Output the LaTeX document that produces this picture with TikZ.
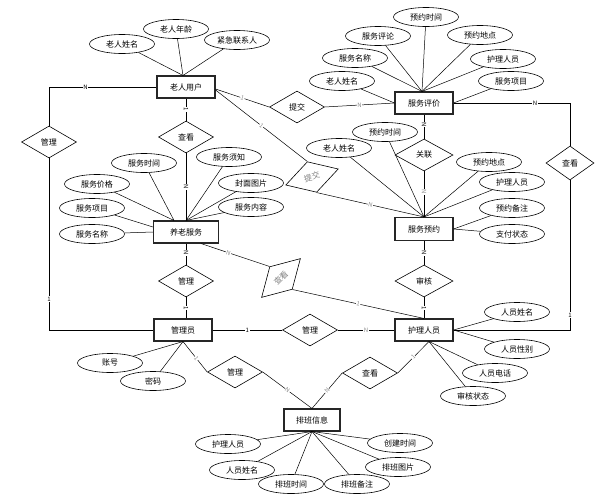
\documentclass[tikz,border=0pt]{standalone}
\usepackage{fontspec}
\setmainfont{Noto Sans CJK SC}
\usetikzlibrary{shapes.geometric}

\begin{document}
\begin{tikzpicture}[x=1pt,y=-1pt,font=\fontsize{8}{9}\selectfont]
          \tikzstyle{entity}=[draw=black!85,line width=1.1pt,minimum width=58pt,minimum height=22pt,inner sep=0pt]
          \tikzstyle{attr}=[draw,ellipse,line width=.6pt,minimum width=65pt,minimum height=19pt,inner sep=0pt]
          \tikzstyle{rel}=[draw,diamond,line width=.6pt,minimum width=55pt,minimum height=32pt,inner sep=0pt]
          \tikzstyle{edge}=[draw,line width=.5pt]
          \tikzstyle{card}=[fill=white,inner sep=.5pt,font=\fontsize{6}{6}\selectfont]
          \tikzstyle{gcard}=[card,text=black!45]
          \useasboundingbox (0,0) rectangle (614,499);
          \node[entity] (old) at (186,87) {老人用户};
          \node[entity] (eval) at (424,103) {服务评价};
          \node[entity,minimum width=65pt] (serv) at (186,232) {养老服务};
          \node[entity,minimum height=23pt] (appt) at (424,229) {服务预约};
          \node[entity] (admin) at (183,330) {管理员};
          \node[entity] (nurse) at (424,330) {护理人员};
          \node[entity,minimum width=56pt] (shift) at (312,420) {排班信息};
          \node[rel] (m1) at (49,142) {管理};
          \node[rel] (ck1) at (186,137) {查看};
          \node[rel] (tj1) at (297,107) {提交};
          \node[rel,rotate=17,text=black!50] (tj2) at (312,177) {提交};
          \node[rel,minimum width=58pt] (gl) at (424,155) {关联};
          \node[rel,minimum width=48pt,minimum height=34pt] (ck2) at (570,163) {查看};
          \node[rel] (m2) at (186,281) {管理};
          \node[rel,rotate=45,text=black!50] (ck3) at (281,278) {查看};
          \node[rel,minimum width=58pt] (sh) at (424,281) {审核};
          \node[rel] (m3) at (310,330) {管理};
          \node[rel] (m4) at (235,372) {管理};
          \node[rel] (ck4) at (370,373) {查看};
          \node[attr] (o1) at (122,44) {老人姓名};
          \node[attr] (o2) at (176,29) {老人年龄};
          \node[attr] (o3) at (237,40) {紧急联系人};
          \node[attr] (e1) at (426,17) {预约时间};
          \node[attr] (e2) at (378,36) {服务评论};
          \node[attr] (e3) at (480,35) {预约地点};
          \node[attr] (e4) at (355,58) {服务名称};
          \node[attr] (e5) at (503,59) {护理人员};
          \node[attr] (e6) at (342,81) {老人姓名};
          \node[attr] (e7) at (511,81) {服务项目};
          \node[attr] (s1) at (144,163) {服务时间};
          \node[attr] (s2) at (229,157) {服务须知};
          \node[attr] (s3) at (97,184) {服务价格};
          \node[attr] (s4) at (251,183) {封面图片};
          \node[attr] (s5) at (92,208) {服务项目};
          \node[attr] (s6) at (251,207) {服务内容};
          \node[attr] (s7) at (92,234) {服务名称};
          \node[attr] (a1) at (385,132) {预约时间};
          \node[attr] (a2) at (339,148) {老人姓名};
          \node[attr] (a3) at (489,162) {预约地点};
          \node[attr] (a4) at (512,182) {护理人员};
          \node[attr] (a5) at (512,208) {预约备注};
          \node[attr] (a6) at (512,234) {支付状态};
          \node[attr] (n1) at (517,312) {人员姓名};
          \node[attr] (n2) at (517,349) {人员性别};
          \node[attr] (n3) at (495,373) {人员电话};
          \node[attr] (n4) at (473,396) {审核状态};
          \node[attr] (d1) at (110,363) {账号};
          \node[attr] (d2) at (153,381) {密码};
          \node[attr] (p1) at (228,444) {护理人员};
          \node[attr] (p2) at (242,470) {人员姓名};
          \node[attr] (p3) at (291,484) {排班时间};
          \node[attr] (p4) at (357,484) {排班备注};
          \node[attr] (p5) at (398,467) {排班图片};
          \node[attr] (p6) at (400,443) {创建时间};
          \foreach \a in {o1,o2,o3}
            \draw[edge] (\a) -- ([xshift=-3pt]old.north);
          \foreach \a in {e1,e2,e3,e4,e5}
            \draw[edge] (\a) -- ([xshift=-2pt]eval.north);
          \draw[edge] (e6) -- (eval.west);
          \draw[edge] (e7) -- (eval.east);
          \foreach \a in {s1,s3}
            \draw[edge] (\a) -- ([xshift=-12pt]serv.north);
          \foreach \a in {s2,s4,s6}
            \draw[edge] (\a) -- (serv.north);
          \draw[edge] (s5) -- ([yshift=5pt]serv.west);
          \draw[edge] (s7) -- (serv.west);
          \foreach \a in {a1,a2,a3,a4}
            \draw[edge] (\a) -- (appt.north);
          \foreach \a in {a5,a6}
            \draw[edge] (\a) -- (appt.east);
          \foreach \a in {n1,n2}
            \draw[edge] (\a) -- (nurse.east);
          \foreach \a in {n3,n4}
            \draw[edge] (\a) -- ([xshift=5pt]nurse.south);
          \foreach \a in {d1,d2}
            \draw[edge] (\a) -- (admin.south);
          \foreach \a in {p1,p2,p3,p4,p5,p6}
            \draw[edge] (\a) -- (shift.south);
          \draw[edge] (old.west) -| (m1.north) node[card,pos=.33]{N};
          \draw[edge] (m1.south) |- (admin.west) node[card,pos=.41]{1};
          \draw[edge] (old.south) -- (ck1.north) node[card,pos=.5,sloped]{1};
          \draw[edge] (ck1.south) -- (serv.north) node[card,pos=.5,sloped]{N};
          \draw[edge] ([yshift=-2pt]old.east) -- (tj1.west) node[gcard,pos=.5,sloped]{1};
          \draw[edge] (tj1.east) -- (eval.west) node[gcard,pos=.5]{N};
          \draw[edge] ([yshift=-3pt]old.east) -- (tj2.north) node[gcard,pos=.5,sloped]{1};
          \draw[edge] (tj2.south) -- (appt.north) node[gcard,pos=.5,sloped]{N};
          \draw[edge] (eval.south) -- (gl.north) node[card,pos=.4,sloped]{N};
          \draw[edge] (gl.south) -- (appt.north) node[gcard,pos=.45,sloped]{N};
          \draw[edge] (eval.east) -| (ck2.north) node[card,pos=.35]{N};
          \draw[edge] (ck2.south) |- (nurse.east) node[card,pos=.45]{1};
          \draw[edge] (serv.south) -- (m2.north) node[card,pos=.45,sloped]{N};
          \draw[edge] (m2.south) -- (m2.south |- admin.north) node[card,pos=.5,sloped]{1};
          \draw[edge] ([xshift=15pt]serv.south) -- (ck3.north) node[gcard,pos=.4,sloped]{N};
          \draw[edge] (ck3.south) -- (nurse.north) node[gcard,pos=.5,sloped]{1};
          \draw[edge] (appt.south) -- (sh.north) node[card,pos=.5,sloped]{N};
          \draw[edge] (sh.south) -- (nurse.north) node[card,pos=.5,sloped]{1};
          \draw[edge] (admin.east) -- (m3.west) node[card,pos=.5]{1};
          \draw[edge] (m3.east) -- (nurse.west) node[gcard,pos=.5]{N};
          \draw[edge] (admin.south) -- (m4.west) node[gcard,pos=.55,sloped]{1};
          \draw[edge] (m4.east) -- (shift.north) node[gcard,pos=.5,sloped]{N};
          \draw[edge] ([xshift=5pt]nurse.south) -- (ck4.east) node[gcard,pos=.5,sloped]{1};
          \draw[edge] (ck4.west) -- (shift.north) node[gcard,pos=.5,sloped]{N};
        \end{tikzpicture}
\end{document}
